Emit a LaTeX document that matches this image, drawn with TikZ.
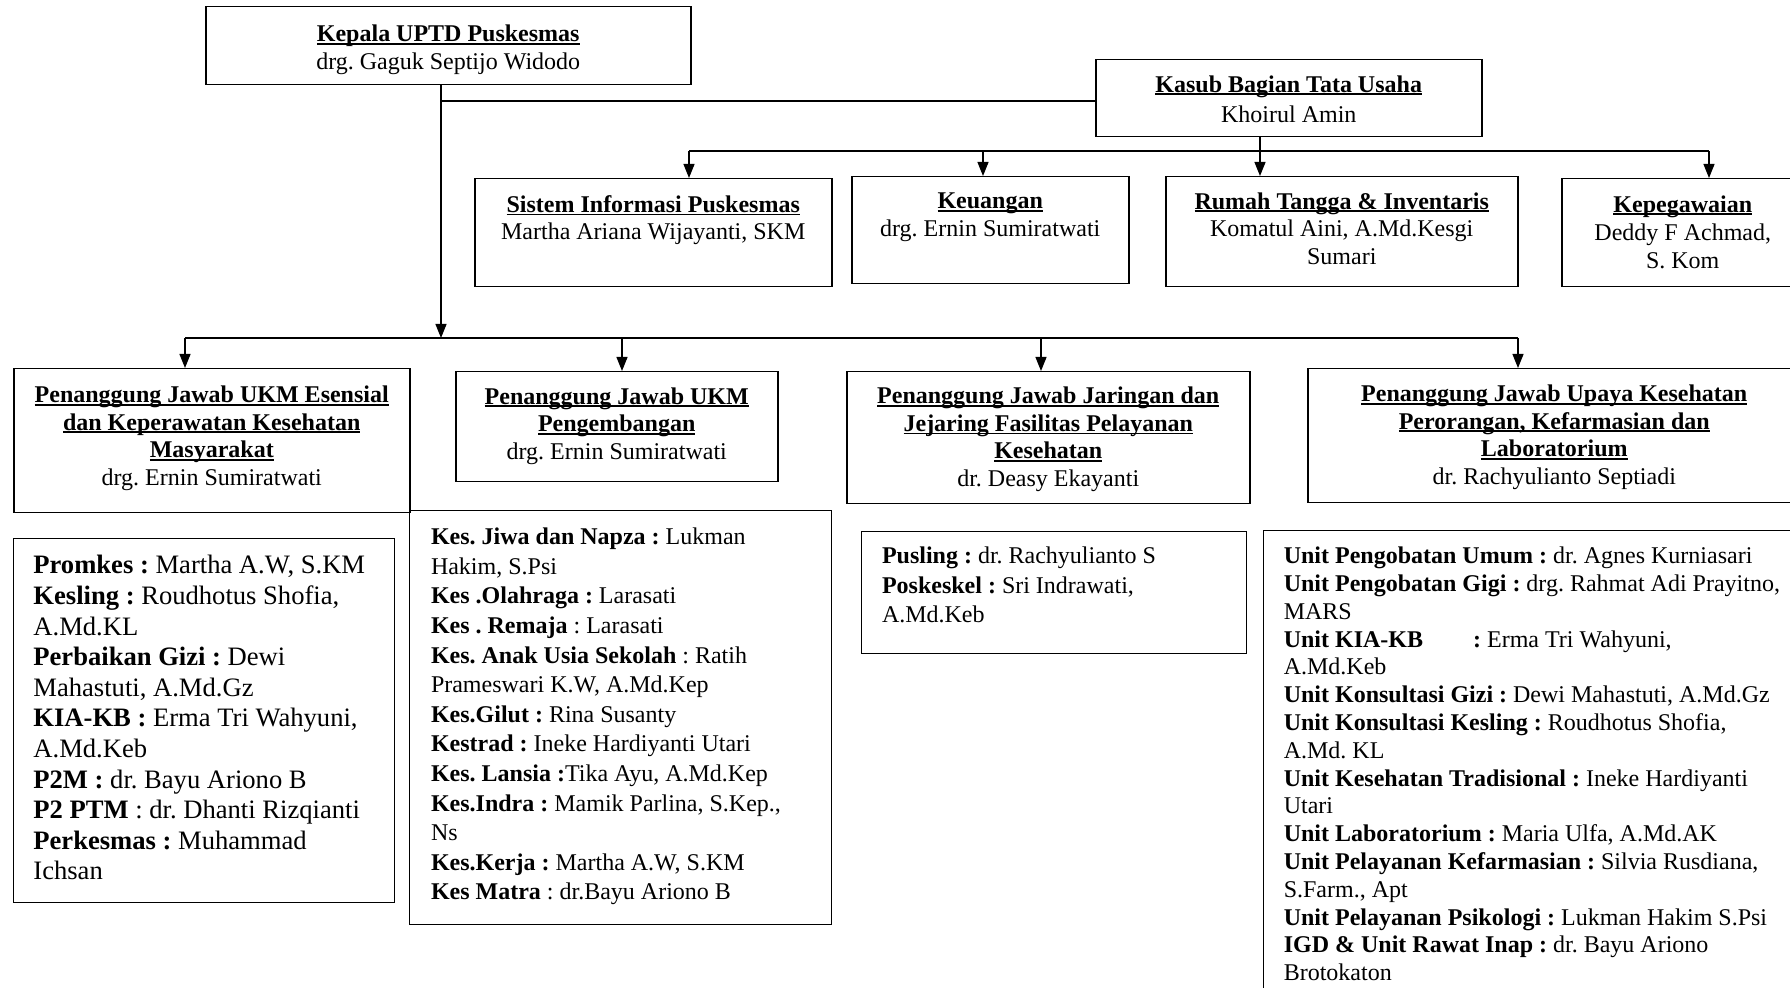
\documentclass[tikz,border=0pt]{standalone}
\usepackage{fontspec}
\setmainfont{Liberation Serif}
\usetikzlibrary{arrows.meta}
\frenchspacing
\newcommand{\hd}[1]{\setbox0\hbox{\bfseries #1}\leavevmode
  \rlap{\rule[-1.6pt]{\wd0}{0.9pt}}\box0}
\tikzset{%
  chart/.style = {x=0.5pt, y=-0.5pt},
  unit/.style = {draw, line width=0.75pt, rectangle, inner sep=0pt, anchor=north west},
  tasks/.style = {draw, line width=0.6pt, rectangle, inner sep=0pt, anchor=north west},
  head/.style = {align=center, inner sep=0pt, anchor=north,
    font=\fontsize{12pt}{13.8pt}\selectfont},
  duty/.style = {align=left, inner sep=0pt, anchor=north west,
    font=\fontsize{12pt}{14.8pt}\selectfont},
  wire/.style = {draw, line width=0.6pt},
  link/.style = {wire, -{Triangle[length=7pt,width=5.5pt]}}
}

\begin{document}
\begin{tikzpicture}[chart]
\useasboundingbox (0,0) rectangle (1790,988);
\clip (0,0) rectangle (1790,988);

% pimpinan
\node[unit, minimum width=242.5pt, minimum height=39pt] (kepala) at (205,6) {};
\node[head] (kepalaT) at ([yshift=-9.3pt]kepala.north)
  {\hd{Kepala UPTD Puskesmas}\\drg. Gaguk Septijo Widodo};
\node[unit, minimum width=193pt, minimum height=38.5pt] (kasub) at (1095,59) {};
\node[head, font=\fontsize{12pt}{15.4pt}\selectfont] (kasubT) at ([yshift=-8pt]kasub.north)
  {\hd{Kasub Bagian Tata Usaha}\\Khoirul Amin};

% tata usaha
\node[unit, minimum width=178.5pt, minimum height=54pt] (sim) at (474,178) {};
\node[head] (simT) at ([yshift=-8.5pt]sim.north)
  {\hd{Sistem Informasi Puskesmas}\\Martha Ariana Wijayanti, SKM};
\node[unit, minimum width=138.5pt, minimum height=53.5pt] (keu) at (851,176) {};
\node[head] (keuT) at ([yshift=-8.3pt]keu.north)
  {\hd{Keuangan}\\drg. Ernin Sumiratwati};
\node[unit, minimum width=176pt, minimum height=55pt] (rt) at (1165,176) {};
\node[head] (rtT) at ([yshift=-8pt]rt.north)
  {\hd{Rumah Tangga \& Inventaris}\\Komatul Aini, A.Md.Kesgi\\Sumari};
\node[unit, minimum width=121pt, minimum height=54pt] (peg) at (1561,178) {};
\node[head, font=\fontsize{12pt}{14.2pt}\selectfont] (pegT) at ([yshift=-8.5pt]peg.north)
  {\hd{Kepegawaian}\\Deddy F Achmad,\\S. Kom};

% penanggung jawab
\node[unit, minimum width=198pt, minimum height=72pt] (pj1) at (13,368) {};
\node[head] (pj1T) at ([yshift=-8.7pt]pj1.north)
  {\hd{Penanggung Jawab UKM Esensial}\\\hd{dan Keperawatan Kesehatan}\\
   \hd{Masyarakat}\\drg. Ernin Sumiratwati};
\node[unit, minimum width=161pt, minimum height=55pt] (pj2) at (455,371) {};
\node[head] (pj2T) at ([yshift=-8pt]pj2.north)
  {\hd{Penanggung Jawab UKM}\\\hd{Pengembangan}\\drg. Ernin Sumiratwati};
\node[unit, minimum width=201.5pt, minimum height=66pt] (pj3) at (846,371) {};
\node[head] (pj3T) at ([yshift=-7.8pt]pj3.north)
  {\hd{Penanggung Jawab Jaringan dan}\\\hd{Jejaring Fasilitas Pelayanan}\\
   \hd{Kesehatan}\\dr. Deasy Ekayanti};
\node[unit, minimum width=246.5pt, minimum height=67pt] (pj4) at (1307,368) {};
\node[head] (pj4T) at ([yshift=-8.2pt]pj4.north)
  {\hd{Penanggung Jawab Upaya Kesehatan}\\\hd{Perorangan, Kefarmasian dan}\\
   \hd{Laboratorium}\\dr. Rachyulianto Septiadi};

% rincian tugas
\node[tasks, minimum width=190.5pt, minimum height=182pt] (ukm1) at (13,538) {};
\node[duty, font=\fontsize{13.3pt}{15.3pt}\selectfont] (ukm1T)
  at ([xshift=10pt,yshift=-8.5pt]ukm1.north west)
  {\textbf{Promkes :} Martha A.W, S.KM\\
   \textbf{Kesling :} Roudhotus Shofia,\\
   A.Md.KL\\
   \textbf{Perbaikan Gizi :} Dewi\\
   Mahastuti, A.Md.Gz\\
   \textbf{KIA-KB :} Erma Tri Wahyuni,\\
   A.Md.Keb\\
   \textbf{P2M :} dr. Bayu Ariono B\\
   \textbf{P2 PTM} : dr. Dhanti Rizqianti\\
   \textbf{Perkesmas :} Muhammad\\
   Ichsan};
\node[tasks, minimum width=211pt, minimum height=207pt] (ukm2) at (409,510) {};
\node[duty] (ukm2T) at ([xshift=10.8pt,yshift=-8.8pt]ukm2.north west)
  {\textbf{Kes. Jiwa dan Napza :} Lukman\\
   Hakim, S.Psi\\
   \textbf{Kes .Olahraga :} Larasati\\
   \textbf{Kes . Remaja} : Larasati\\
   \textbf{Kes. Anak Usia Sekolah} : Ratih\\
   Prameswari K.W, A.Md.Kep\\
   \textbf{Kes.Gilut :} Rina Susanty\\
   \textbf{Kestrad :} Ineke Hardiyanti Utari\\
   \textbf{Kes. Lansia :}Tika Ayu, A.Md.Kep\\
   \textbf{Kes.Indra :} Mamik Parlina, S.Kep.,\\
   Ns\\
   \textbf{Kes.Kerja :} Martha A.W, S.KM\\
   \textbf{Kes Matra} : dr.Bayu Ariono B};
\node[tasks, minimum width=192.5pt, minimum height=61pt] (jar) at (861,531) {};
\node[duty] (jarT) at ([xshift=10.3pt,yshift=-7.8pt]jar.north west)
  {\textbf{Pusling :} dr. Rachyulianto S\\
   \textbf{Poskeskel :} Sri Indrawati,\\
   A.Md.Keb};
\node[tasks, minimum width=270pt, minimum height=235pt] (ukp) at (1263,530) {};
\node[duty, font=\fontsize{12pt}{13.9pt}\selectfont] (ukpT)
  at ([xshift=10.2pt,yshift=-8.3pt]ukp.north west)
  {\textbf{Unit Pengobatan Umum :} dr. Agnes Kurniasari\\
   \textbf{Unit Pengobatan Gigi :} drg. Rahmat Adi Prayitno,\\
   MARS\\
   \textbf{Unit KIA-KB}\hspace{25pt}\textbf{:} Erma Tri Wahyuni,\\
   A.Md.Keb\\
   \textbf{Unit Konsultasi Gizi :} Dewi Mahastuti, A.Md.Gz\\
   \textbf{Unit Konsultasi Kesling :} Roudhotus Shofia,\\
   A.Md. KL\\
   \textbf{Unit Kesehatan Tradisional :} Ineke Hardiyanti\\
   Utari\\
   \textbf{Unit Laboratorium :} Maria Ulfa, A.Md.AK\\
   \textbf{Unit Pelayanan Kefarmasian :} Silvia Rusdiana,\\
   S.Farm., Apt\\
   \textbf{Unit Pelayanan Psikologi :} Lukman Hakim S.Psi\\
   \textbf{IGD \& Unit Rawat Inap :} dr. Bayu Ariono\\
   Brotokaton};

% garis komando
\coordinate (tap) at (441,101);
\coordinate (trunk) at (441,338);
\coordinate (t1) at (689,151);
\coordinate (t2) at (983,151);
\coordinate (t3) at (1260,151);
\coordinate (t4) at (1709,151);
\coordinate (u1) at (185,338);
\coordinate (u2) at (622,338);
\coordinate (u3) at (1041,338);
\coordinate (u4) at (1518,338);

\draw[link] (kepala.south -| trunk) -- (trunk);
\draw[wire] (tap) -- (tap -| kasub.west);
\draw[wire] (kasub.south -| t3) -- (t3);
\draw[wire] (t1) -- (t4);
\draw[wire] (u1) -- (u4);
\foreach \c/\b in {t1/sim, t2/keu, t3/rt, t4/peg}
  \draw[link] (\c) -- (\c |- \b.north);
\foreach \c/\b in {u1/pj1, u2/pj2, u3/pj3, u4/pj4}
  \draw[link] (\c) -- (\c |- \b.north);
\end{tikzpicture}
\end{document}
